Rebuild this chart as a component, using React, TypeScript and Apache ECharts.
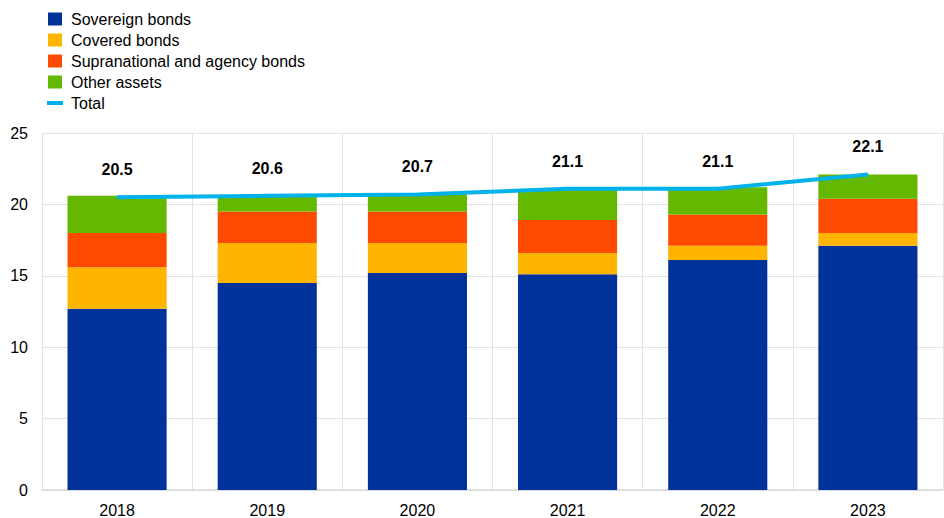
import React, { useEffect, useRef } from "react";
import * as echarts from "echarts";

const categories = ["2018", "2019", "2020", "2021", "2022", "2023"];
const sovereign = [12.7, 14.5, 15.2, 15.1, 16.1, 17.1];
const covered = [2.9, 2.8, 2.1, 1.5, 1.0, 0.9];
const supranational = [2.4, 2.2, 2.2, 2.3, 2.2, 2.4];
const other = [2.6, 1.1, 1.2, 2.1, 1.9, 1.7];
const total = [20.5, 20.6, 20.7, 21.1, 21.1, 22.1];

const FONT = "Arial, 'Liberation Sans', sans-serif";
const SQUARE = "path://M0,0H14V13H0Z";

export default function App() {
  const ref = useRef<HTMLDivElement>(null);
  useEffect(() => {
    if (!ref.current) return;
    const chart = echarts.init(ref.current, undefined, { renderer: "svg" });
    const bar = (name: string, data: number[], color: string) => ({
      name,
      type: "bar",
      stack: "a",
      data,
      barWidth: "66%",
      itemStyle: { color },
      emphasis: { disabled: true },
    });
    chart.setOption({
      animation: false,
      textStyle: { fontFamily: FONT },
      legend: {
        orient: "vertical",
        left: 42,
        top: 6,
        itemWidth: 16,
        itemHeight: 13,
        itemGap: 5,
        selectedMode: false,
        textStyle: {
          fontSize: 16,
          color: "#000",
          fontFamily: FONT,
          padding: [0, 0, 0, 3],
        },
        data: [
          { name: "Sovereign bonds", icon: SQUARE },
          { name: "Covered bonds", icon: SQUARE },
          { name: "Supranational and agency bonds", icon: SQUARE },
          { name: "Other assets", icon: SQUARE },
          { name: "Total", icon: "path://M0,0H16V4H0Z", itemStyle: { color: "#00b1ea" } },
        ],
      },
      grid: { left: 42, right: 1, top: 133, bottom: 28 },
      xAxis: {
        type: "category",
        data: categories,
        axisTick: { show: false },
        axisLine: { lineStyle: { color: "#d9d9d9", width: 1.5 } },
        axisLabel: { fontSize: 16, color: "#000", margin: 12, fontFamily: FONT },
        splitLine: { show: true, lineStyle: { color: "#e3e3e3", width: 1 } },
      },
      yAxis: {
        type: "value",
        min: 0,
        max: 25,
        interval: 5,
        axisLabel: { fontSize: 16, color: "#000", margin: 14, fontFamily: FONT },
        splitLine: { lineStyle: { color: "#e3e3e3", width: 1 } },
        axisLine: { show: false },
        axisTick: { show: false },
      },
      series: [
        bar("Sovereign bonds", sovereign, "#003299"),
        bar("Covered bonds", covered, "#ffb400"),
        bar("Supranational and agency bonds", supranational, "#ff4b00"),
        bar("Other assets", other, "#65b800"),
        {
          name: "Total",
          type: "line",
          data: total,
          z: 10,
          symbol: "circle",
          symbolSize: 1,
          showSymbol: true,
          lineStyle: { color: "#00b1ea", width: 4 },
          itemStyle: { color: "#00b1ea" },
          emphasis: { disabled: true },
          label: {
            show: true,
            position: "top",
            distance: 19,
            fontSize: 16,
            fontWeight: "bold",
            color: "#000",
            fontFamily: FONT,
            formatter: (p: any) => p.value.toFixed(1),
          },
        },
      ],
    });
    return () => chart.dispose();
  }, []);
  return (
    <div
      ref={ref}
      style={{ position: "fixed", left: 0, top: 0, width: 944, height: 518, background: "#fff" }}
    />
  );
}
